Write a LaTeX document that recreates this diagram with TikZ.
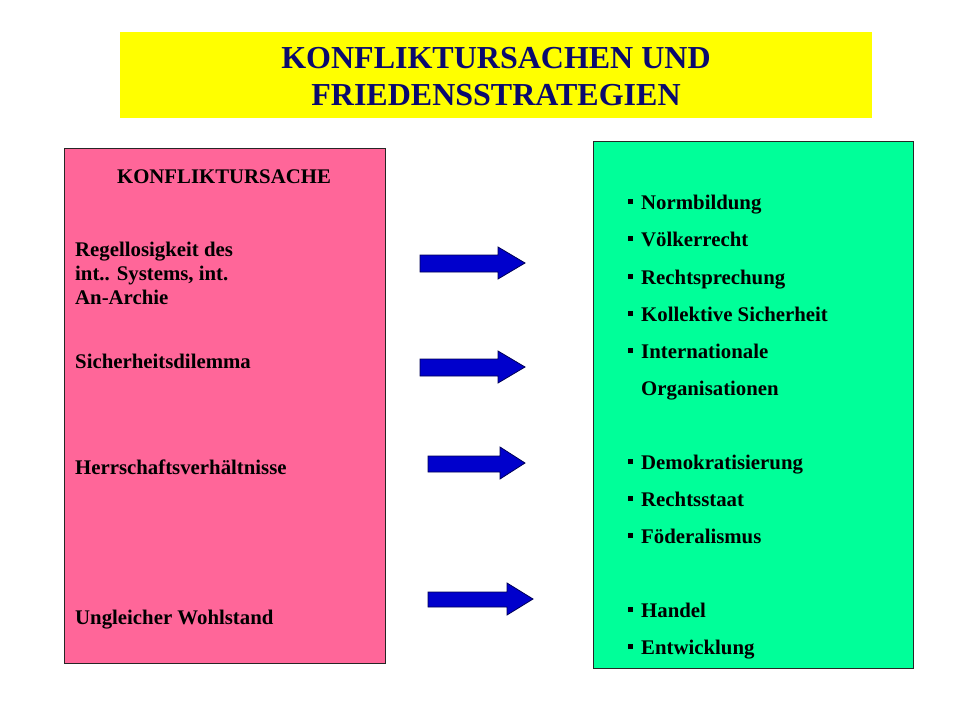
\documentclass[tikz,border=0pt]{standalone}
\usepackage{fontspec}
\setmainfont{Liberation Serif}
\begin{document}
\begin{tikzpicture}[x=1pt,y=-1pt,
  titlefont/.style={font=\fontsize{32}{37}\selectfont\bfseries, text=titleblue, align=center},
  lefttext/.style={font=\fontsize{20.8}{24}\selectfont\bfseries, anchor=base west, inner sep=0pt, align=left},
  headtext/.style={font=\fontsize{20.8}{24}\selectfont\bfseries, anchor=base, inner sep=0pt},
  item/.style={font=\fontsize{20.8}{24}\selectfont\bfseries, anchor=base west, inner sep=0pt},
  bigarrow/.style={fill=arrowblue, draw=arrowedge, line width=0.8pt, line join=miter},
  panel/.style={draw=black!85, line width=0.9pt}
]
\definecolor{titleblue}{HTML}{0A0A6E}
\definecolor{arrowblue}{HTML}{0000CC}
\definecolor{arrowedge}{HTML}{000055}
\definecolor{pinkbox}{HTML}{FF6699}
\definecolor{greenbox}{HTML}{00FF99}
\definecolor{titleyellow}{HTML}{FFFF00}
\newcommand{\bul}{\rule[5pt]{5pt}{5pt}\hspace{8pt}}
\useasboundingbox[fill=white] (0,0) rectangle (960,720);

% title
\fill[titleyellow] (120,32) rectangle (872,118);
\node[titlefont, anchor=base] (t1) at (496,68) {KONFLIKTURSACHEN UND};
\node[titlefont, anchor=base] (t2) at (496,105) {FRIEDENSSTRATEGIEN};

% left panel
\draw[panel, fill=pinkbox] (64,148) rectangle (385,663);
\node[headtext] (lh) at (224,183) {KONFLIKTURSACHE};
\node[lefttext] (l1a) at (75,256) {Regellosigkeit des};
\node[lefttext] (l1b) at (75,280) {int.. Systems, int.};
\node[lefttext] (l1c) at (75,304) {An-Archie};
\node[lefttext] (l2) at (75,368) {Sicherheitsdilemma};
\node[lefttext] (l3) at (75,474) {Herrschaftsverhältnisse};
\node[lefttext] (l4) at (75,624) {Ungleicher Wohlstand};

% right panel
\draw[panel, fill=greenbox] (593,141) rectangle (913,668);
\node[item] (r1) at (628,209) {\bul Normbildung};
\node[item] (r2) at (628,246) {\bul Völkerrecht};
\node[item] (r3) at (628,284) {\bul Rechtsprechung};
\node[item] (r4) at (628,321) {\bul Kollektive Sicherheit};
\node[item] (r5) at (628,358) {\bul Internationale};
\node[item] (r6) at (641,395) {Organisationen};
\node[item] (r7) at (628,469) {\bul Demokratisierung};
\node[item] (r8) at (628,506) {\bul Rechtsstaat};
\node[item] (r9) at (628,543) {\bul Föderalismus};
\node[item] (r10) at (628,617) {\bul Handel};
\node[item] (r11) at (628,654) {\bul Entwicklung};

% arrows
\draw[bigarrow] (420,255) -- (498,255) -- (498,247) -- (525,263) -- (498,279) -- (498,272) -- (420,272) -- cycle;
\draw[bigarrow] (420,359) -- (498,359) -- (498,351) -- (525,367) -- (498,383) -- (498,376) -- (420,376) -- cycle;
\draw[bigarrow] (428,456) -- (500,456) -- (500,447) -- (525,463) -- (500,479) -- (500,472) -- (428,472) -- cycle;
\draw[bigarrow] (428,592) -- (507,592) -- (507,583) -- (533,599) -- (507,615) -- (507,607) -- (428,607) -- cycle;
\end{tikzpicture}
\end{document}
